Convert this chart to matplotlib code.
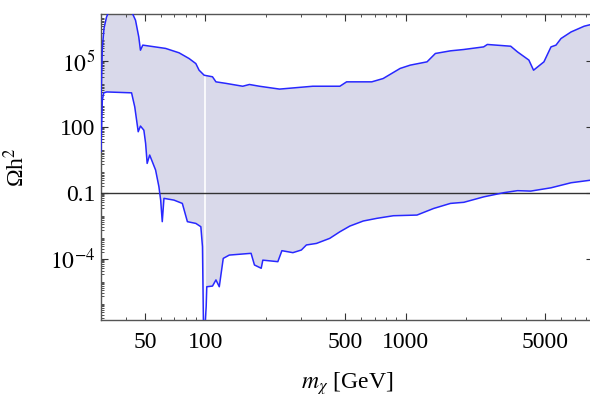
import numpy as np
import matplotlib.pyplot as plt
from matplotlib.ticker import FixedLocator, LogLocator, NullFormatter

plt.rcParams['font.family'] = ['Liberation Serif', 'DejaVu Serif']
plt.rcParams['mathtext.fontset'] = 'stix'

# upper edge of the band (mass in GeV, log10 of Omega h^2)
x_up = [30.0, 30.2, 30.5, 31.1, 32.0, 33.0, 42.5, 44.7, 46.4, 47.3, 48.6, 63.2,
        73.8, 82.8, 89.5, 92.9, 98.5, 108.4, 112.8, 126.6, 153.5, 165.8, 186,
        234.6, 343.8, 418, 469.7, 507.6, 678, 772.7, 940, 1056, 1281, 1410,
        1677, 1950, 2458, 2565, 3357, 3631, 4137, 4366, 4920, 5337, 5653,
        5988, 6725, 7816, 8474]
logy_up = [3.2, 4.0, 5.6, 6.5, 7.0, 7.3, 7.3, 6.86, 6.1, 5.5, 5.73, 5.58,
           5.38, 5.12, 4.89, 4.59, 4.36, 4.29, 4.06, 3.99, 3.86, 3.94, 3.86,
           3.73, 3.86, 3.86, 3.86, 4.06, 4.06, 4.21, 4.67, 4.82, 4.97, 5.35,
           5.47, 5.53, 5.65, 5.76, 5.68, 5.42, 5.05, 4.59, 4.97, 5.65, 5.73,
           6.03, 6.33, 6.59, 6.67]

# lower edge of the band
x_lo = [30.0, 30.2, 30.5, 31.0, 32.1, 42.7, 44.3, 46.1, 47.3, 49.2, 50.2,
        51.1, 52.6, 56.3, 58.5, 59.7, 60.8, 62.0, 69.6, 76.6, 81.2, 89.5,
        94.8, 96.6, 98.0, 100.8, 101.5, 108.4, 112.8, 117.2, 122.7, 131.5,
        169, 175.7, 189.9, 193.5, 230, 241, 273.5, 301.5, 319.5, 358.7, 418,
        469.7, 527, 615, 718, 870, 1141, 1382, 1677, 1956, 2465, 3108, 3631,
        4226, 5337, 6725, 8474]
logy_lo = [0.9, 1.8, 3.23, 3.56, 3.6, 3.56, 2.92, 1.79, 2.05, 1.86, 1.26,
           0.35, 0.73, 0.05, -0.71, -1.32, -2.30, -1.24, -1.32, -1.47, -2.30,
           -2.38, -2.53, -3.44, -8.0, -6.17, -5.26, -5.23, -4.95, -5.26, -3.97,
           -3.82, -3.74, -4.27, -4.42, -4.05, -4.12, -3.62, -3.71, -3.59, -3.36,
           -3.29, -3.06, -2.76, -2.50, -2.27, -2.15, -2.03, -2.0, -1.70, -1.47,
           -1.42, -1.17, -0.98, -0.89, -0.91, -0.76, -0.53, -0.41]

x_ticks = [50, 100, 500, 1000, 5000]
x_ticklabels = ['50', '100', '500', '1000', '5000']
y_ticks = [1e-4, 0.1, 100, 1e5]
y_ticklabels = [r'$10^{-4}$', '0.1', '100', r'$10^{5}$']

y_up = 10.0 ** np.array(logy_up)
y_lo = 10.0 ** np.array(logy_lo)

fig = plt.figure(figsize=(5.9, 3.94), dpi=100)
ax = fig.add_axes([0.171, 0.188, 0.834, 0.7765])

ax.fill(np.concatenate([x_up, x_lo[::-1]]), np.concatenate([y_up, y_lo[::-1]]),
        color='#d9d9ea', lw=0, zorder=1)
ax.vlines(100, 1e-8, 10 ** 4.36, color='white', lw=1.2, zorder=2)
ax.axhline(0.1, color='#333333', lw=1.0, zorder=3)
ax.plot(x_up, y_up, color='#2828ff', lw=1.1, zorder=4)
ax.plot(x_lo, y_lo, color='#2828ff', lw=1.1, zorder=4)

ax.set_xscale('log')
ax.set_yscale('log')
ax.set_xlim(30, 8650)
ax.set_ylim(1.7e-7, 1.4e7)

ax.xaxis.set_major_locator(FixedLocator(x_ticks))
ax.set_xticklabels(x_ticklabels)
ax.xaxis.set_minor_locator(LogLocator(base=10, subs=np.arange(2, 10)))
ax.xaxis.set_minor_formatter(NullFormatter())
ax.yaxis.set_major_locator(FixedLocator(y_ticks))
ax.set_yticklabels(y_ticklabels)
ax.yaxis.set_minor_locator(LogLocator(base=10, subs=np.arange(2, 10), numticks=40))
ax.yaxis.set_minor_formatter(NullFormatter())

for s in ax.spines.values():
    s.set_color('#555555')
    s.set_linewidth(1.0)
ax.tick_params(which='both', direction='in', top=True, right=True,
               labelsize=17, color='#333333')
ax.tick_params(which='major', length=5, width=0.8)
ax.tick_params(which='minor', length=2.5, width=0.6)
ax.tick_params(axis='x', pad=9)
ax.tick_params(axis='y', pad=4)

ax.set_xlabel(r'$m_\chi$ [GeV]', fontsize=17)
ax.xaxis.set_label_coords(0.5, -0.165)
ax.xaxis.label.set_va('top')
ax.set_ylabel('Ωh$^2$', fontsize=17)
ax.yaxis.set_label_coords(-0.145, 0.5)

plt.savefig('out.png', dpi=100)
